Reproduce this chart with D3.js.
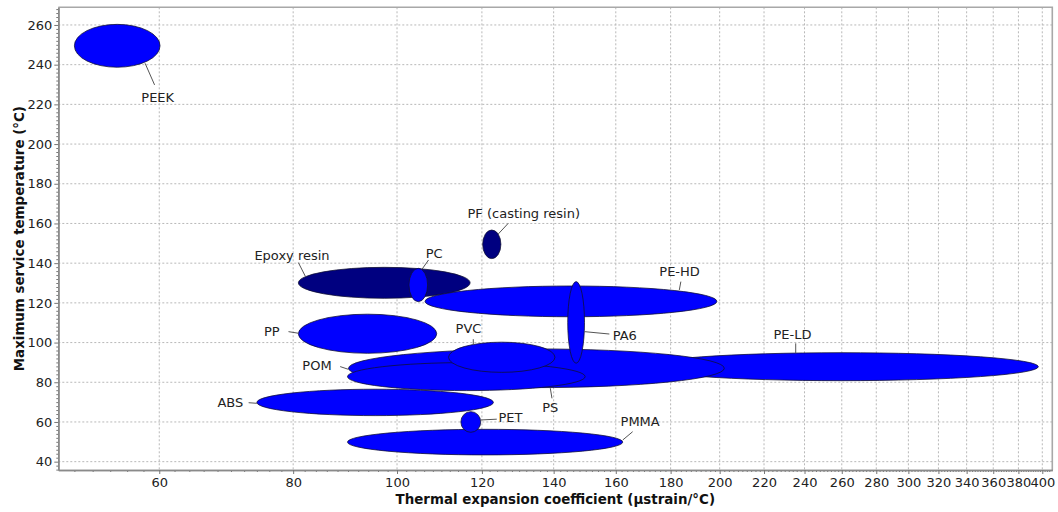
<!DOCTYPE html>
<html><head><meta charset="utf-8">
<script src="https://cdn.jsdelivr.net/npm/d3@7"></script>
<style>
body{margin:0;background:#fff}
svg{display:block}
text{font-family:"DejaVu Sans",Verdana,sans-serif}
</style>
</head><body>
<svg id="c" width="1058" height="512"></svg>
<script>
// ---- data (ranges) ----
const materials = ["PEEK","PE-LD","POM","PS","PVC","Epoxy resin","PE-HD","PC","PA6","PF (casting resin)","PP","ABS","PMMA","PET"];
const cteLow    = [50.0, 170.0,  90.1,  89.9, 111.7,  80.9, 106.2, 102.6, 144.3, 120.2,  80.9,  74.0,  89.9, 114.7];
const cteHigh   = [60.1, 396.6, 202.0, 149.8, 140.4, 117.0, 198.8, 106.8, 149.6, 125.0, 108.9, 123.0, 162.4, 119.7];
const tempLow   = [238.7, 80.8,  77.3,  75.8,  85.0, 122.3, 113.0, 120.6,  89.6, 142.3,  94.6,  63.2,  43.4,  54.8];
const tempHigh  = [260.3, 94.9,  96.8,  89.9, 100.2, 137.9, 128.5, 137.4, 130.7, 156.7, 114.3,  76.5,  56.3,  65.2];
const family    = ["thermoplastic","thermoplastic","thermoplastic","thermoplastic","thermoplastic","thermoset","thermoplastic","thermoplastic","thermoplastic","thermoset","thermoplastic","thermoplastic","thermoplastic","thermoplastic"];

// label anchors (data units): text centre, and leader line ends
const labelX = [59.8, 233.9, 84.2, 139.0, 116.6, 79.8, 183.5, 108.3, 163.1, 131.3, 76.4, 69.9, 168.6, 127.6];
const labelY = [223.7, 104.2, 88.6, 67.3, 107.2, 144.1, 135.6, 145.0, 103.8, 164.8, 105.8, 69.8, 60.4, 62.3];
const leadX1 = [58.2, 235.5, 90.1, 139.0, 117.8, 82.1, 183.4, 105.5, 149.6, 124.3, 80.9, 74.0, 162.4, 119.7];
const leadY1 = [240.7, 94.6, 86.5, 77.0, 98.8, 133.5, 126.5, 136.9, 105.5, 154.7, 104.7, 69.4, 50.9, 61.0];
const leadX2 = [59.4, 235.5, 88.5, 139.5, 117.8, 80.9, 184.0, 107.0, 157.8, 127.0, 79.2, 72.7, 165.9, 123.9];
const leadY2 = [229.8, 99.6, 87.9, 71.9, 101.7, 140.3, 130.7, 141.6, 104.3, 160.1, 105.5, 69.7, 55.1, 61.4];

const xTicks = [60,80,100,120,140,160,180,200,220,240,260,280,300,320,340,360,380,400];
const yTicks = [40,60,80,100,120,140,160,180,200,220,240,260];
const xTitle = "Thermal expansion coefficient (µstrain/°C)";
const yTitle = "Maximum service temperature (°C)";

// ---- layout ----
const W = 1058, H = 512;
const L = 58.3, R = 1052.3, T = 7.3, B = 470;
const x = d3.scaleLog().domain([48.3, 408.7]).range([L, R]);
const y = d3.scaleLinear().domain([35.8, 268.9]).range([B, T]);
const colour = d3.scaleOrdinal().domain(["thermoplastic","thermoset"]).range(["#0000ff","#000080"]);

const svg = d3.select("#c");

// grid
const grid = svg.append("g");
grid.selectAll("line.v").data(xTicks).join("line")
  .attr("x1", d => x(d)).attr("x2", d => x(d)).attr("y1", T).attr("y2", B)
  .attr("stroke", "#b8b8b8").attr("stroke-width", 1).attr("stroke-dasharray", "2,2");
grid.selectAll("line.h").data(yTicks).join("line")
  .attr("y1", d => y(d)).attr("y2", d => y(d)).attr("x1", L).attr("x2", R)
  .attr("stroke", "#b8b8b8").attr("stroke-width", 1).attr("stroke-dasharray", "2,2");

// frame (top/right)
svg.append("path").attr("d", `M${L},${T}H${R}V${B}`).attr("fill","none")
  .attr("stroke", "#a8a8a8").attr("stroke-width", 1.6);

// ellipses
const idx = d3.range(materials.length);
svg.append("g").selectAll("ellipse").data(idx).join("ellipse")
  .attr("cx", i => (x(cteLow[i]) + x(cteHigh[i])) / 2)
  .attr("cy", i => (y(tempLow[i]) + y(tempHigh[i])) / 2)
  .attr("rx", i => (x(cteHigh[i]) - x(cteLow[i])) / 2)
  .attr("ry", i => (y(tempLow[i]) - y(tempHigh[i])) / 2)
  .attr("fill", i => colour(family[i]))
  .attr("stroke", "#101030").attr("stroke-width", 0.9).attr("stroke-opacity", 0.85);

// leader lines
svg.append("g").selectAll("line").data(idx).join("line")
  .attr("x1", i => x(leadX1[i])).attr("y1", i => y(leadY1[i]))
  .attr("x2", i => x(leadX2[i])).attr("y2", i => y(leadY2[i]))
  .attr("stroke", "#555").attr("stroke-width", 1);

// labels
svg.append("g").selectAll("text").data(idx).join("text")
  .attr("x", i => x(labelX[i])).attr("y", i => y(labelY[i]))
  .attr("text-anchor", "middle").attr("dominant-baseline", "central")
  .attr("font-size", "13px").attr("fill", "#222")
  .text(i => materials[i]);

// axes
const minorX = d3.range(50, 408, 2).filter(v => !xTicks.includes(v));
const minorY = d3.range(36, 269, 2).filter(v => !yTicks.includes(v));

const gx = svg.append("g").attr("transform", `translate(0,${B})`);
gx.call(d3.axisBottom(x).tickValues(minorX).tickSize(2).tickSizeOuter(0).tickFormat(""));
gx.call(g => g.selectAll(".tick line").attr("stroke", "#777"));
const gx2 = svg.append("g").attr("transform", `translate(0,${B})`);
gx2.call(d3.axisBottom(x).tickValues(xTicks).tickSize(4).tickSizeOuter(0).tickFormat(d3.format("d")).tickPadding(4));
[gx, gx2].forEach(g => g.select(".domain").attr("stroke", "#8a8a8a").attr("stroke-width", 1.6));
gx2.selectAll(".tick line").attr("stroke", "#777");
gx2.selectAll(".tick text").attr("font-size", "13px").attr("fill", "#222")
  .attr("font-family", "DejaVu Sans, Verdana, sans-serif");

const gy = svg.append("g").attr("transform", `translate(${L},0)`);
gy.call(d3.axisLeft(y).tickValues(minorY).tickSize(2).tickSizeOuter(0).tickFormat(""));
gy.selectAll(".tick line").attr("stroke", "#777");
const gy2 = svg.append("g").attr("transform", `translate(${L},0)`);
gy2.call(d3.axisLeft(y).tickValues(yTicks).tickSize(4).tickSizeOuter(0).tickFormat(d3.format("d")).tickPadding(2));
[gy, gy2].forEach(g => g.select(".domain").attr("stroke", "#8a8a8a").attr("stroke-width", 1.6));
gy2.selectAll(".tick line").attr("stroke", "#777");
gy2.selectAll(".tick text").attr("font-size", "13px").attr("fill", "#222")
  .attr("font-family", "DejaVu Sans, Verdana, sans-serif");

// titles
svg.append("text").attr("x", (L + R) / 2).attr("y", 504)
  .attr("text-anchor", "middle").attr("font-weight", "bold").attr("font-size", "13.4px").attr("fill", "#111")
  .text(xTitle);
svg.append("text").attr("transform", `translate(24,${(T + B) / 2}) rotate(-90)`)
  .attr("text-anchor", "middle").attr("font-weight", "bold").attr("font-size", "13.4px").attr("fill", "#111")
  .text(yTitle);
</script>
</body></html>
